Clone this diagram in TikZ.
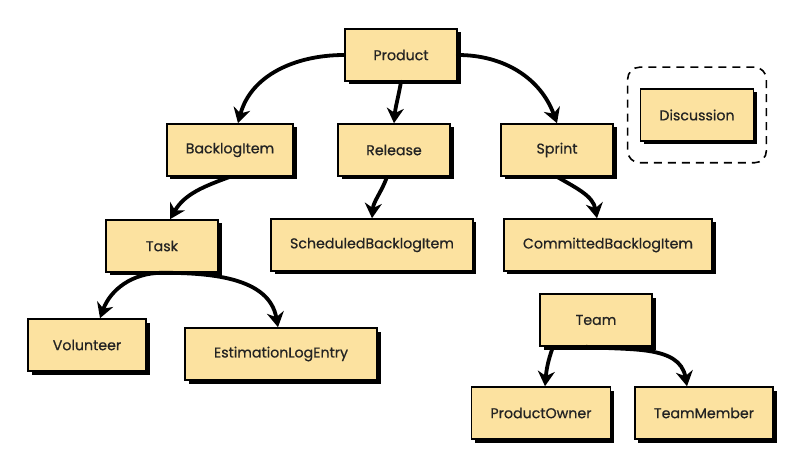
\documentclass[tikz,border=0pt]{standalone}
\usepackage{fontspec}
\newfontfamily\labelfont{Poppins}[FakeBold=0.6]
\usetikzlibrary{arrows.meta,shadows,fit}
\definecolor{boxfill}{RGB}{252,226,160}
\definecolor{boxtext}{RGB}{35,35,35}
\begin{document}
\begin{tikzpicture}[
                x=1pt, y=-1pt,
                entity/.style={
                        draw, line width=1.6pt, fill=boxfill,
                        text=boxtext, font=\labelfont\fontsize{14.2}{16}\selectfont,
                        minimum width=112pt, minimum height=52pt,
                        inner xsep=19pt,
                        general shadow={fill=black, shadow xshift=3.5pt, shadow yshift=-3.5pt}
                    },
                link/.style={draw, line width=3.8pt, line cap=round,
                        -{Stealth[length=15pt, width=17pt]}}
            ]
            \useasboundingbox (0, 0) rectangle (800, 462);

            % top level
            \node[entity] (product) at (401, 55) {Product};
            \node[entity] (backlog) at (230, 150) {BacklogItem};
            \node[entity] (release) at (394, 150) {Release};
            \node[entity] (sprint) at (557, 150) {Sprint};
            \node[entity] (discussion) at (697, 115) {Discussion};

            % second level
            \node[entity] (task) at (162, 246) {Task};
            \node[entity] (scheduled) at (372, 245) {ScheduledBacklogItem};
            \node[entity] (committed) at (608, 245) {CommittedBacklogItem};

            % bottom rows
            \node[entity, minimum width=118pt] (volunteer) at (87, 345) {Volunteer};
            \node[entity, minimum width=192pt] (estimation) at (281, 354) {EstimationLogEntry};
            \node[entity] (team) at (596, 320) {Team};
            \node[entity] (owner) at (541, 413) {ProductOwner};
            \node[entity] (member) at (704, 413) {TeamMember};

            % dashed group
            \node[draw, dashed, line width=1.6pt, dash pattern=on 8pt off 6pt,
                rounded corners=12pt, inner xsep=12pt, inner ysep=21pt,
                fit=(discussion)] (group) {};

            \draw[link] (product.west) to[out=180, in=75] ([xshift=8pt]backlog.north);
            \draw[link] (product.south) to[out=-100, in=85] (release.north);
            \draw[link] (product.east) to[out=0, in=110] (sprint.north);
            \draw[link] (backlog.south) to[out=-160, in=60] ([xshift=8pt]task.north);
            \draw[link] ([xshift=-7pt]release.south) to[out=-110, in=85] (scheduled.north);
            \draw[link] (sprint.south) to[out=-30, in=100] ([xshift=-11pt]committed.north);
            \draw[link] (task.south) to[out=180, in=70] ([xshift=13pt]volunteer.north);
            \draw[link] (task.south) to[out=0, in=100] ([xshift=-3pt]estimation.north);
            \draw[link] ([xshift=-43pt]team.south) to[out=-110, in=85] ([xshift=4pt]owner.north);
            \draw[link] ([xshift=-10pt]team.south) to[out=-5, in=100] ([xshift=-17pt]member.north);

        \end{tikzpicture}
\end{document}
